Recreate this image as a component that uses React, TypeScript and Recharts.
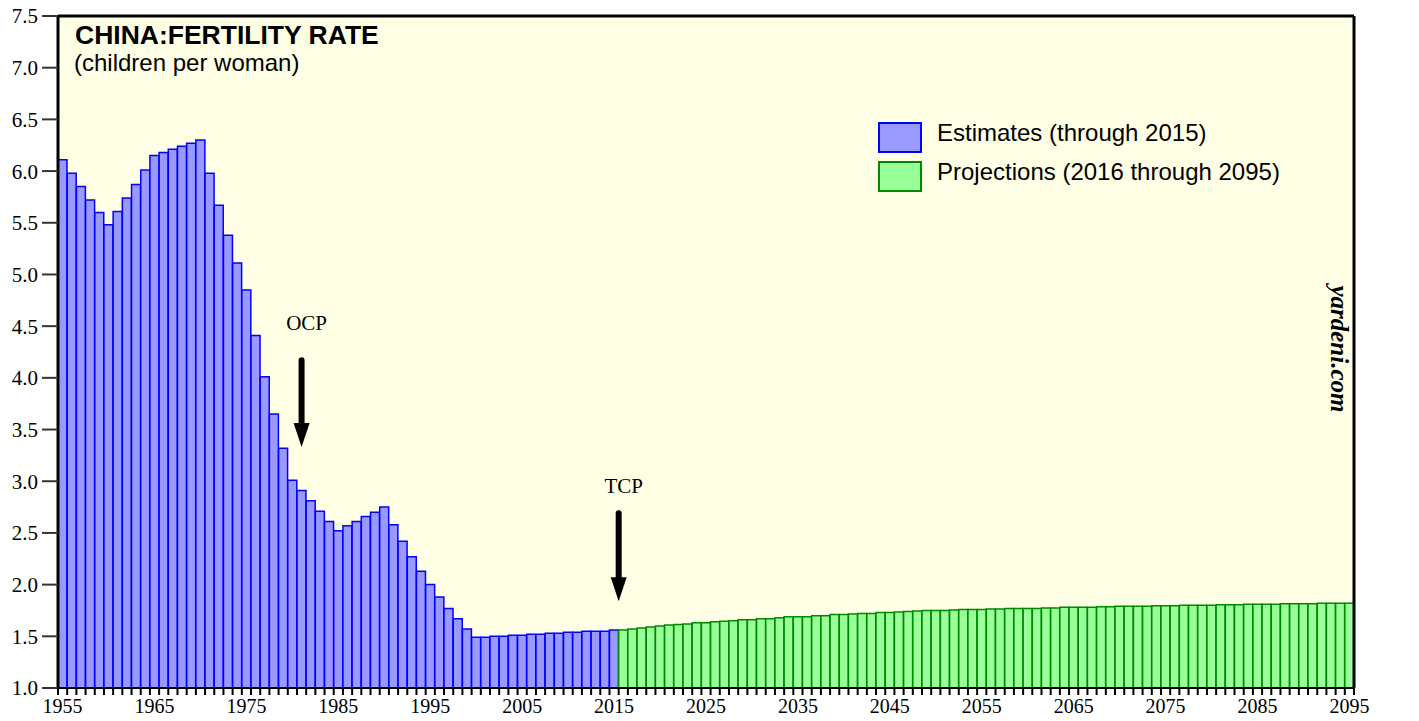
import { Bar, BarChart, CartesianGrid, Cell, Legend, ReferenceLine, XAxis, YAxis } from "recharts"

const FIRST_YEAR = 1955
const LAST_ESTIMATE_YEAR = 2015

// UN estimates, 1955-2015
const estimates = [
  6.11, 5.98, 5.85, 5.72, 5.6, 5.48, 5.61, 5.74, 5.87, 6.01,
  6.15, 6.18, 6.21, 6.24, 6.27, 6.3, 5.98, 5.67, 5.38, 5.11,
  4.85, 4.41, 4.01, 3.65, 3.32, 3.01, 2.91, 2.81, 2.71, 2.61,
  2.52, 2.57, 2.61, 2.66, 2.7, 2.75, 2.58, 2.42, 2.27, 2.13,
  2.0, 1.88, 1.77, 1.67, 1.57, 1.49, 1.49, 1.5, 1.5, 1.51,
  1.51, 1.52, 1.52, 1.53, 1.53, 1.54, 1.54, 1.55, 1.55, 1.55,
  1.56,
]

// projections, 2016-2095
const projections = [
  1.56, 1.57, 1.58, 1.59, 1.6, 1.61, 1.615, 1.62, 1.63, 1.63,
  1.64, 1.645, 1.65, 1.66, 1.66, 1.67, 1.67, 1.68, 1.69, 1.69,
  1.69, 1.7, 1.7, 1.71, 1.71, 1.715, 1.72, 1.72, 1.73, 1.73,
  1.735, 1.74, 1.745, 1.75, 1.75, 1.75, 1.755, 1.76, 1.76, 1.76,
  1.765, 1.765, 1.77, 1.77, 1.77, 1.77, 1.775, 1.775, 1.78, 1.78,
  1.78, 1.78, 1.785, 1.785, 1.79, 1.79, 1.79, 1.79, 1.795, 1.795,
  1.795, 1.8, 1.8, 1.8, 1.8, 1.805, 1.805, 1.805, 1.81, 1.81,
  1.81, 1.81, 1.815, 1.815, 1.815, 1.815, 1.82, 1.82, 1.82, 1.82,
]

const yTicks = [1.0, 1.5, 2.0, 2.5, 3.0, 3.5, 4.0, 4.5, 5.0, 5.5, 6.0, 6.5, 7.0, 7.5]
const labeledYears = [1955, 1965, 1975, 1985, 1995, 2005, 2015, 2025, 2035, 2045, 2055, 2065, 2075, 2085, 2095]

const legendItems = [
  { name: "Estimates (through 2015)", fill: "#9999ff", stroke: "#0000ff" },
  { name: "Projections (2016 through 2095)", fill: "#99ff99", stroke: "#008800" },
]

const annotations = [
  { label: "OCP", year: 1981, from: 4.17, to: 3.33, position: "middle", gap: 30 },
  { label: "TCP", year: 2016, from: 2.69, to: 1.84, position: "start", gap: 20 },
]

const data = [...estimates, ...projections].map((value, i) => ({ year: FIRST_YEAR + i, value }))

const W = 1419
const H = 721
const LEFT_W = 58
const RIGHT_W = 65
const BAND = (W - LEFT_W - RIGHT_W) / data.length
const SERIF = "'Liberation Serif', 'Times New Roman', serif"
const SANS = "'Liberation Sans', Arial, sans-serif"

function YearTick(props: any) {
  const { x, y, payload, index } = props
  const left = x - BAND / 2
  return (
    <g>
      <line x1={left} y1={y} x2={left} y2={y + 7} stroke="#000" strokeWidth={2} />
      {index === data.length - 1 && <line x1={x + BAND / 2} y1={y} x2={x + BAND / 2} y2={y + 7} stroke="#000" strokeWidth={2} />}
      {labeledYears.includes(payload.value) && (
        <text x={x} y={y + 25} textAnchor="middle" fontSize={20} fontFamily={SERIF} fill="#000">
          {payload.value}
        </text>
      )}
    </g>
  )
}

function Arrow(props: any) {
  const { x1, y1, x2, y2, text, gap } = props
  const head = 24
  return (
    <g>
      <line x1={x1} y1={y1} x2={x2} y2={y2 - head + 2} stroke="#000" strokeWidth={6} strokeLinecap="round" />
      <polygon points={`${x2 - 8},${y2 - head} ${x2 + 8},${y2 - head} ${x2},${y2}`} fill="#000" />
      <text x={x1 + 5} y={y1 - gap} textAnchor="middle" fontSize={21} fontFamily={SERIF} fill="#000">
        {text}
      </text>
    </g>
  )
}

function LegendBox() {
  return (
    <div>
      {legendItems.map((item) => (
        <div key={item.name} style={{ display: "flex", alignItems: "center", height: 39 }}>
          <div style={{ width: 40, height: 27, background: item.fill, border: `2px solid ${item.stroke}`, marginRight: 15 }} />
          <span style={{ fontFamily: SANS, fontSize: 24, color: "#000", marginTop: -10 }}>{item.name}</span>
        </div>
      ))}
    </div>
  )
}

export default function App() {
  return (
    <div style={{ position: "absolute", left: 0, top: 0, width: W, height: H, background: "#fff" }}>
      <BarChart width={W} height={H} data={data} barCategoryGap={0} margin={{ top: 16, right: 0, bottom: 0, left: 0 }}>
        <CartesianGrid fill="#ffffe6" horizontal={false} vertical={false} />
        <XAxis
          dataKey="year"
          interval={0}
          height={33}
          tickLine={false}
          tickSize={0}
          tickMargin={0}
          axisLine={{ stroke: "#000", strokeWidth: 2 }}
          tick={(p: any) => <YearTick {...p} />}
        />
        <YAxis
          domain={[1, 7.5]}
          ticks={yTicks}
          width={LEFT_W}
          tickSize={16}
          tickMargin={4}
          tickFormatter={(v: number) => v.toFixed(1)}
          tick={{ fill: "#000", fontSize: 21, fontFamily: SERIF }}
          tickLine={{ stroke: "#333", strokeWidth: 2 }}
          axisLine={{ stroke: "#000", strokeWidth: 3 }}
        />
        <YAxis
          yAxisId="right"
          orientation="right"
          domain={[1, 7.5]}
          ticks={yTicks}
          width={RIGHT_W}
          tickSize={14}
          tickMargin={4}
          tickFormatter={(v: number) => v.toFixed(1)}
          tick={{ fill: "#000", fontSize: 21, fontFamily: SERIF, textAnchor: "start" }}
          tickLine={{ stroke: "#333", strokeWidth: 2 }}
          axisLine={{ stroke: "#000", strokeWidth: 3 }}
        />
        <Bar dataKey="value" strokeWidth={1.5} isAnimationActive={false}>
          {data.map((d) => {
            const item = d.year <= LAST_ESTIMATE_YEAR ? legendItems[0] : legendItems[1]
            return <Cell key={d.year} fill={item.fill} stroke={item.stroke} />
          })}
        </Bar>
        <ReferenceLine y={7.5} stroke="#000" strokeWidth={3} />
        {annotations.map((a) => (
          <ReferenceLine
            key={a.label}
            position={a.position as any}
            segment={[{ x: a.year, y: a.from }, { x: a.year, y: a.to }]}
            shape={(p: any) => <Arrow {...p} text={a.label} gap={a.gap} />}
          />
        ))}
        <Legend
          layout="horizontal"
          verticalAlign="middle"
          align="center"
          content={() => <LegendBox />}
          wrapperStyle={{ left: 878, top: 118, width: 420, height: 80 }}
        />
      </BarChart>
      <svg width={W} height={H} style={{ position: "absolute", left: 0, top: 0, pointerEvents: "none" }}>
        <text x={75} y={44} fontFamily={SANS} fontWeight="bold" fontSize={26.5} fill="#000">
          CHINA:FERTILITY RATE
        </text>
        <text x={74} y={71} fontFamily={SANS} fontSize={24} fill="#000">
          (children per woman)
        </text>
        <text
          x={1331}
          y={349}
          textAnchor="middle"
          transform="rotate(90 1331 349)"
          fontFamily={SERIF}
          fontWeight="bold"
          fontStyle="italic"
          fontSize={25}
          fill="#000"
        >
          yardeni.com
        </text>
      </svg>
    </div>
  )
}
